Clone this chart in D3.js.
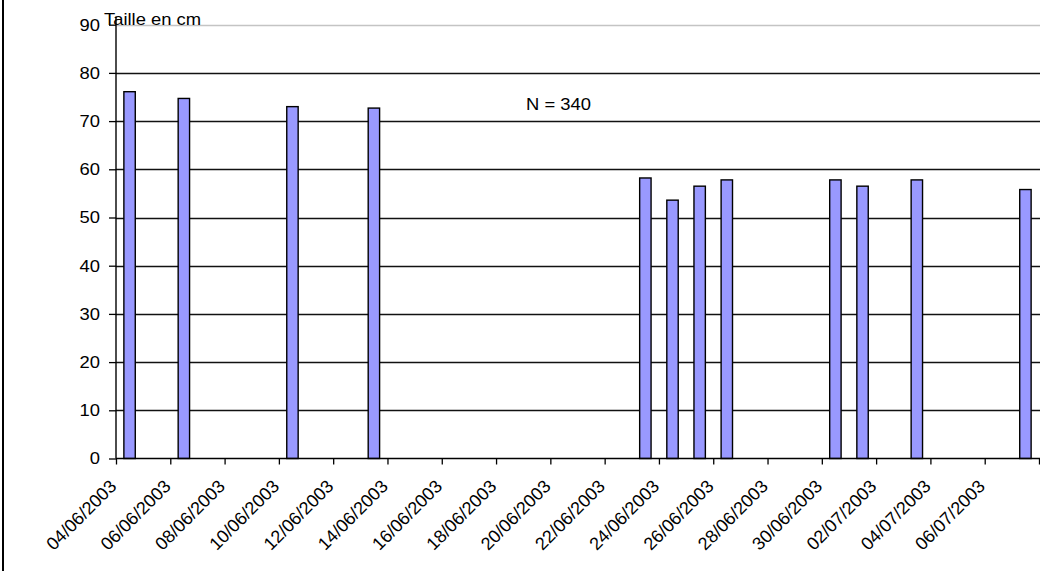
<!DOCTYPE html>
<html>
<head>
<meta charset="utf-8">
<script src="https://cdn.jsdelivr.net/npm/d3@7"></script>
<style>
  html, body { margin: 0; padding: 0; background: #fff; }
  svg { display: block; }
  text { font-family: "Liberation Sans", Arial, sans-serif; fill: #000; }
</style>
</head>
<body>
<svg id="chart" width="1040" height="571"></svg>
<script>
// ---- data ----
const dates = ["04/06/2003", "06/06/2003", "10/06/2003", "13/06/2003", "23/06/2003", "24/06/2003",
               "25/06/2003", "26/06/2003", "30/06/2003", "01/07/2003", "03/07/2003", "07/07/2003"];
const tailles = [76.1, 74.7, 73.0, 72.7, 58.2, 53.6, 56.5, 57.8, 57.8, 56.5, 57.8, 55.8];
const yTicks = [0, 10, 20, 30, 40, 50, 60, 70, 80, 90];
const xTickLabels = ["04/06/2003", "06/06/2003", "08/06/2003", "10/06/2003", "12/06/2003", "14/06/2003",
                     "16/06/2003", "18/06/2003", "20/06/2003", "22/06/2003", "24/06/2003", "26/06/2003",
                     "28/06/2003", "30/06/2003", "02/07/2003", "04/07/2003", "06/07/2003", ""];
const axisStart = "04/06/2003";
const axisEnd = "08/07/2003";
const yTitle = "Taille en cm";
const note = "N = 340";

// ---- layout ----
(function () {
const parse = d3.timeParse("%d/%m/%Y");
const mLeft = 116, mRight = 1039, mTop = 24.7, mBottom = 458.5;
const sx = 1.15; // horizontal stretch of the text in the reference

const svg = d3.select("#chart");

const x = d3.scaleTime().domain([parse(axisStart), parse(axisEnd)]).range([mLeft, mRight]);
const y = d3.scaleLinear().domain([0, 90]).range([mBottom, mTop]);

// outer frame (left edge)
svg.append("line").attr("x1", 3).attr("x2", 3).attr("y1", 0).attr("y2", 571)
  .attr("stroke", "#000").attr("stroke-width", 2);

// gridlines
svg.append("g").selectAll("line").data(yTicks.filter(d => d > 0)).join("line")
  .attr("x1", mLeft).attr("x2", 1040)
  .attr("y1", d => Math.round(y(d)) + 0.5).attr("y2", d => Math.round(y(d)) + 0.5)
  .attr("stroke", d => d === 90 ? "#c4c4c4" : "#111")
  .attr("stroke-width", d => d === 90 ? 1.6 : 1.3);

// bars
const dayW = x(d3.timeDay.offset(parse(axisStart), 1)) - x(parse(axisStart));
const barW = dayW * 0.42;
svg.append("g").selectAll("rect").data(dates.map((d, i) => ({ d: parse(d), v: tailles[i] }))).join("rect")
  .attr("x", d => x(d3.timeHour.offset(d.d, 12)) - barW / 2)
  .attr("width", barW)
  .attr("y", d => y(d.v))
  .attr("height", d => mBottom - y(d.v))
  .attr("fill", "#9999ff")
  .attr("stroke", "#000")
  .attr("stroke-width", 1.4);

// y axis
const yAxis = svg.append("g").attr("transform", `translate(${mLeft},0)`)
  .call(d3.axisLeft(y).tickValues(yTicks).tickSize(7).tickFormat(""));
yAxis.select(".domain").attr("d", `M0,${mTop - 8}V${mBottom}`).attr("stroke", "#000").attr("stroke-width", 1.4);
yAxis.selectAll(".tick line").attr("stroke", "#000").attr("stroke-width", 1.3);
svg.append("g").selectAll("text").data(yTicks).join("text")
  .attr("transform", d => `translate(100,${y(d) + 5.8}) scale(${sx},1)`)
  .attr("text-anchor", "end")
  .attr("font-size", 16)
  .text(d => d);

// x axis
const xTickDates = xTickLabels.map((_, i) => d3.timeDay.offset(parse(axisStart), 2 * i));
const xAxis = svg.append("g").attr("transform", `translate(0,${mBottom})`)
  .call(d3.axisBottom(x).tickValues(xTickDates).tickSize(6).tickFormat(""));
xAxis.select(".domain").attr("d", `M${mLeft},0H${mRight + 1}`).attr("stroke", "#000").attr("stroke-width", 1.6);
xAxis.selectAll(".tick line").attr("stroke", "#000").attr("stroke-width", 1.3);
svg.append("g").selectAll("text").data(xTickLabels.map((l, i) => ({ l, d: xTickDates[i] }))).join("text")
  .attr("transform", d => `translate(${x(d.d) + 1.5},${mBottom + 29}) rotate(-45)`)
  .attr("text-anchor", "end")
  .attr("font-size", 18)
  .text(d => d.l);

// titles
svg.append("text").attr("transform", `translate(104,24.5) scale(${sx},1)`)
  .attr("font-size", 16).text(yTitle);
svg.append("text").attr("transform", `translate(526,110) scale(${sx},1)`)
  .attr("font-size", 16).text(note);
})();
</script>
</body>
</html>
